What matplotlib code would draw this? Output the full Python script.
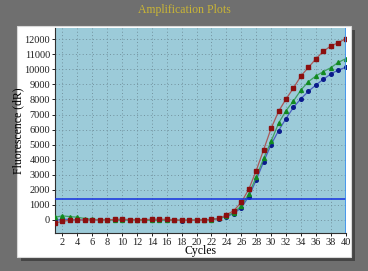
import matplotlib.pyplot as plt
from matplotlib.patches import Rectangle

cycles = list(range(1, 41))

# Fluorescence (dR), one value per cycle
red_dr = [-200, -100, -20, 0, -10, 10, -10, 0, 30, 50,
          20, 10, 20, 40, 50, 30, -10, -20, -30, -20,
          0, 30, 100, 330, 620, 1170, 2030, 3270, 4670, 6080,
          7210, 8030, 8760, 9560, 10130, 10690, 11200, 11550, 11770, 12040]
green_dr = [180, 270, 220, 180, 90, 40, 10, 0, -10, -20,
            0, -10, -20, -30, -20, -10, -30, -20, -10, 0,
            0, 20, 100, 260, 490, 930, 1730, 2830, 4090, 5220,
            6420, 7260, 7900, 8630, 9180, 9560, 9850, 10110, 10460, 10710]
blue_dr = [-50, 60, 20, 0, 0, 0, 10, 10, 0, 0,
           10, 20, 10, 0, 0, 0, -20, -40, -30, -20,
           0, 20, 90, 220, 420, 820, 1550, 2650, 3870, 5000,
           5930, 6730, 7480, 8050, 8540, 8960, 9340, 9690, 9960, 10130]
threshold = 1370

y_ticks = list(range(0, 13000, 1000))
x_ticks = list(range(2, 41, 2))

serif = ['Liberation Serif', 'DejaVu Serif']

fig = plt.figure(figsize=(3.68, 2.71), dpi=100)
fig.patch.set_facecolor('#6f6f6f')

# white panel with a dark drop shadow
fig.patches.append(Rectangle((21 / 368, 10 / 271), 334 / 368, 231 / 271,
                             transform=fig.transFigure, facecolor='#454545',
                             edgecolor='none', zorder=-2))
fig.patches.append(Rectangle((17 / 368, 14 / 271), 334 / 368, 231 / 271,
                             transform=fig.transFigure, facecolor='white',
                             edgecolor='#d8d8d8', lw=0.8, zorder=-1))

fig.text(0.5, 0.962, 'Amplification Plots', ha='center', va='center',
         color='#c9b536', fontsize=8.5, family=serif)

ax = fig.add_axes([55 / 368, 38 / 271, 291 / 368, 205 / 271])
ax.set_facecolor('#9ccbd9')

ax.plot(cycles, red_dr, color='#a85a5a', lw=0.9, marker='s', ms=2.7,
        mfc='#8b0f0f', mec='#8b0f0f', zorder=4)
ax.plot(cycles, green_dr, color='#3f9f62', lw=0.9, marker='^', ms=2.8,
        mfc='#118a20', mec='#118a20', zorder=3)
ax.plot(cycles, blue_dr, color='#4a5fc0', lw=0.9, marker='o', ms=2.6,
        mfc='#0a1a8c', mec='#0a1a8c', zorder=2)

ax.axhline(threshold, color='#1530e0', lw=1.1, zorder=5)
ax.axvline(40, color='#3a90f0', lw=1.2, zorder=5)

ax.set_xlim(1, 40.05)
ax.set_ylim(-870, 12750)
ax.set_xticks(x_ticks)
ax.set_yticks(y_ticks)
ax.grid(True, color='#72929e', ls=(0, (1, 2.5)), lw=0.7)
ax.set_axisbelow(True)

for s in ax.spines.values():
    s.set_visible(False)
ax.spines['left'].set_visible(True)
ax.spines['bottom'].set_visible(True)
ax.spines['left'].set_color('#303030')
ax.spines['bottom'].set_color('#303030')

ax.tick_params(labelsize=7.5, length=2.5, width=0.7, pad=1, colors='#202020')
for lab in ax.get_xticklabels() + ax.get_yticklabels():
    lab.set_family(serif)

ax.set_xlabel('Cycles', fontsize=8.5, family=serif, labelpad=-1)
ax.set_ylabel('Fluorescence (dR)', fontsize=8.5, family=serif, labelpad=0)

fig.savefig('out.png', dpi=100, facecolor=fig.get_facecolor())
